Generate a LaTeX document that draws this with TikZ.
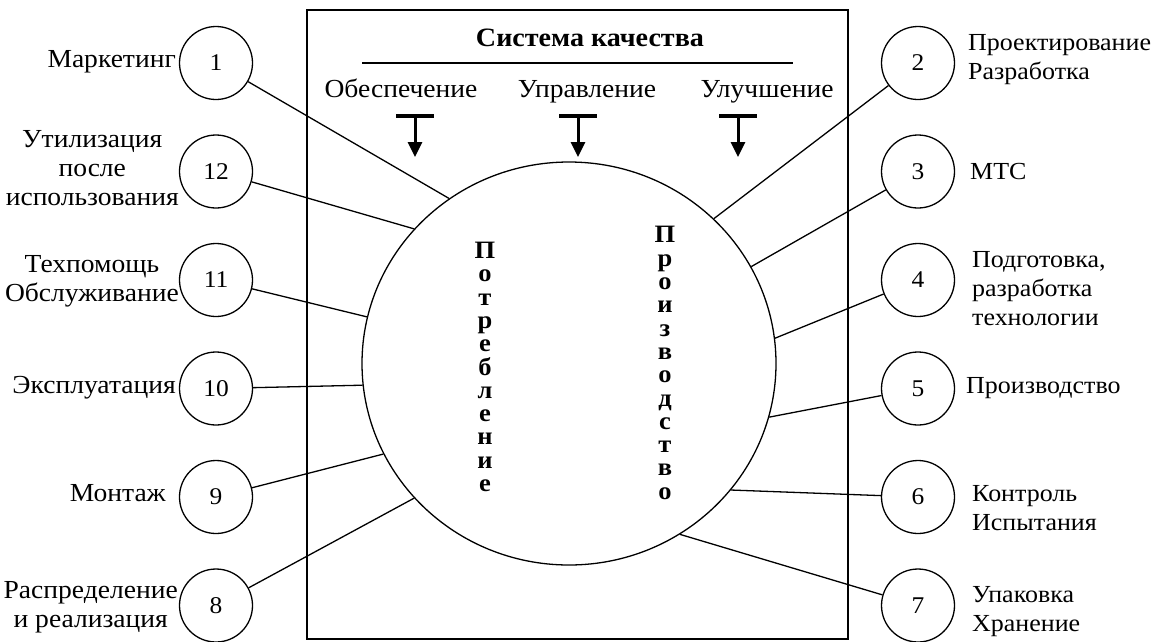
\documentclass[tikz,border=0pt]{standalone}
\usepackage{fontspec}
\setmainfont{Liberation Serif}[FakeStretch=1.06]
\usetikzlibrary{shapes.geometric,arrows.meta}
\begin{document}
\begin{tikzpicture}[x=1pt,y=-1pt,
  lbl/.style={font=\fontsize{26}{29}\selectfont, inner sep=0pt},
  rlbl/.style={font=\fontsize{24.5}{29}\selectfont, inner sep=0pt},
  num/.style={draw, circle, minimum size=73pt, inner sep=0pt, line width=1.3pt, font=\fontsize{24}{28}\selectfont},
  conn/.style={line width=1.3pt},
  vtext/.style={font=\fontsize{25}{23.3}\selectfont\bfseries, align=center, inner sep=0pt},
  tarrow/.style={line width=3pt, -{Triangle[width=14pt,length=15pt]}},
  tbar/.style={line width=4.5pt},
  frame/.style={line width=1.3pt},
]
\useasboundingbox (0,0) rectangle (1156,641);
\draw[frame] (307,10) rectangle (848,639);

% title
\node[lbl, font=\fontsize{26.5}{29}\selectfont\bfseries, anchor=base] (title) at (590,46) {Система качества};
\coordinate (ul) at (362,63);
\coordinate (ur) at (793,63);
\draw[conn] (ul) -- (ur);
\node[lbl, anchor=base] (obes) at (401,97) {Обеспечение};
\node[lbl, anchor=base] (upr) at (587,97) {Управление};
\node[lbl, anchor=base] (ulu) at (767,97) {Улучшение};

% T arrows
\foreach \n/\x in {a/415,b/578,c/738}{
  \coordinate (tl\n) at (\x-19,116);
  \coordinate (tr\n) at (\x+19,116);
  \coordinate (tt\n) at (\x,116);
  \coordinate (tp\n) at (\x,157);
  \draw[tbar] (tl\n) -- (tr\n);
  \draw[tarrow] (tt\n) -- (tp\n);
}

% big circle
\node[draw, ellipse, line width=1.3pt, minimum width=414pt, minimum height=403pt, inner sep=0pt] (big) at (569,363.5) {};

\node[vtext] (potr) at (485,367) {П\\о\\т\\р\\е\\б\\л\\е\\н\\и\\е};
\node[vtext] (proiz) at (665,363) {П\\р\\о\\и\\з\\в\\о\\д\\с\\т\\в\\о};

% left number circles
\node[num] (n1)  at (216,63)    {1};
\node[num] (n12) at (216,171.5) {12};
\node[num] (n11) at (216,280)   {11};
\node[num] (n10) at (216,388.5) {10};
\node[num] (n9)  at (216,497)   {9};
\node[num] (n8)  at (216,605.5) {8};
% right number circles
\node[num] (n2) at (918,63)    {2};
\node[num] (n3) at (918,171.5) {3};
\node[num] (n4) at (918,280)   {4};
\node[num] (n5) at (918,388.5) {5};
\node[num] (n6) at (918,497)   {6};
\node[num] (n7) at (918,605.5) {7};

% connectors
\draw[conn] (n1)  -- (big.126.3);
\draw[conn] (n12) -- (big.139.6);
\draw[conn] (n11) -- (big.167);
\draw[conn] (n10) -- (big.186.8);
\draw[conn] (n9)  -- (big.206.2);
\draw[conn] (n8)  -- (big.221.6);
\draw[conn] (n2)  -- (big.45.5);
\draw[conn] (n3)  -- (big.28);
\draw[conn] (n4)  -- (big.7.3);
\draw[conn] (n5)  -- (big.-15.7);
\draw[conn] (n6)  -- (big.-38);
\draw[conn] (n7)  -- (big.-57.9);

% left labels
\node[lbl, anchor=east] (l1) at (176,62) {Маркетинг};
\node[lbl, anchor=east, align=center] (l12) at (179,168) {Утилизация\\после\\использования};
\node[lbl, anchor=east, align=center] (l11) at (179,281) {Техпомощь\\Обслуживание};
\node[lbl, anchor=east] (l10) at (176,388) {Эксплуатация};
\node[lbl, anchor=east] (l9) at (166,493) {Монтаж};
\node[lbl, anchor=east, align=center] (l8) at (178,607) {Распределение\\и реализация};

% right labels
\node[rlbl, anchor=west, align=left] (l2) at (968,60) {Проектирование\\Разработка};
\node[rlbl, anchor=west] (l3) at (970,172) {МТС};
\node[rlbl, anchor=west, align=left] (l4) at (972,289) {Подготовка,\\разработка\\технологии};
\node[rlbl, anchor=west] (l5) at (966,388) {Производство};
\node[rlbl, anchor=west, align=left] (l6) at (972,508) {Контроль\\Испытания};
\node[rlbl, anchor=west, align=left] (l7) at (972,612) {Упаковка\\Хранение};
\end{tikzpicture}
\end{document}
